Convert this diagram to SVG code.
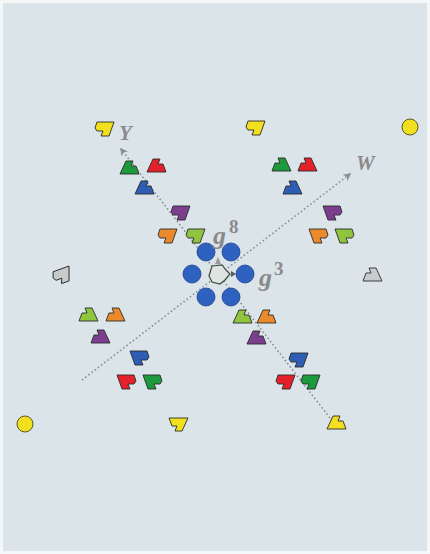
<svg xmlns="http://www.w3.org/2000/svg" width="430" height="554" viewBox="0 0 430 554">
<defs>
<style>
.pc{stroke:#2a2a2a;stroke-width:0.9;stroke-linejoin:round}
.y{fill:#f2e01e}.g{fill:#1c9a3c}.r{fill:#e4212b}.b{fill:#2e5db5}.p{fill:#7b3f8e}.o{fill:#ea8a2c}.l{fill:#8fc43e}.gr{fill:#c8cbcb}
.dot{fill:#2f62c0;stroke:#1d3f8a;stroke-width:0.8}
.ax{stroke:#8a9094;stroke-width:1.6;stroke-dasharray:1.6,2.4;fill:none}
.lbl{font-family:"Liberation Serif",serif;font-style:italic;fill:#8a8a8a;font-weight:bold}
.sup{font-family:"Liberation Serif",serif;font-style:normal;fill:#8a8a8a;font-weight:bold;font-size:19px}
</style>
<path id="pA" d="M-10,6 L-4,-7 L3,-7 L1,-2 L6,-2 L9,6 Z"/>
<path id="pB" d="M-7,-7 L10,-7 L5,7 L-3,7 L-1,2 L-7,2 L-9,-1 Z"/>
<marker id="ah" viewBox="0 0 10 10" refX="8" refY="5" markerWidth="5" markerHeight="5" orient="auto"><path d="M0,0 L10,5 L0,10 L3,5 Z" fill="#8a9094"/></marker>
</defs>
<rect x="0" y="0" width="430" height="554" fill="#f4f7f8"/>
<rect x="3" y="3" width="424" height="548" fill="#dbe4e9"/>
<g id="connectors">
<line class="ax" x1="330" y1="418" x2="121" y2="149" marker-end="url(#ah)"/>
<line class="ax" x1="82" y1="380" x2="350" y2="174" marker-end="url(#ah)"/>
</g>
<g id="yellow">
<use href="#pB" class="pc y" x="104" y="129"/>
<use href="#pB" class="pc y" x="255" y="128"/>
<use href="#pA" class="pc y" transform="translate(178,424) rotate(180)"/>
<use href="#pA" class="pc y" x="337" y="423"/>
<circle cx="410" cy="127" r="8" fill="#f2e01e" stroke="#4a4a2a" stroke-width="0.9"/>
<circle cx="25" cy="424" r="8" fill="#f2e01e" stroke="#4a4a2a" stroke-width="0.9"/>
</g>
<g id="cluster-tl">
<use href="#pA" class="pc g" x="130" y="168"/>
<use href="#pA" class="pc r" x="157" y="166"/>
<use href="#pA" class="pc b" x="145" y="188"/>
</g>
<g id="cluster-tr">
<use href="#pA" class="pc g" transform="translate(281,165) scale(-1,1)"/>
<use href="#pA" class="pc r" transform="translate(307,165) scale(-1,1)"/>
<use href="#pA" class="pc b" transform="translate(292,188) scale(-1,1)"/>
</g>
<g id="cluster-ml">
<use href="#pB" class="pc p" x="180" y="213"/>
<use href="#pB" class="pc o" x="167" y="236"/>
<use href="#pB" class="pc l" x="195" y="236"/>
</g>
<g id="cluster-mr">
<use href="#pB" class="pc p" transform="translate(333,213) scale(-1,1)"/>
<use href="#pB" class="pc o" transform="translate(319,236) scale(-1,1)"/>
<use href="#pB" class="pc l" transform="translate(345,236) scale(-1,1)"/>
</g>
<g id="gray">
<use href="#pB" class="pc gr" transform="translate(62,276) rotate(-20)"/>
<use href="#pA" class="pc gr" transform="translate(372,275) scale(-1,1)"/>
</g>
<g id="cluster-ll">
<use href="#pA" class="pc l" transform="translate(88,315) scale(-1,1)"/>
<use href="#pA" class="pc o" transform="translate(115,315) scale(-1,1)"/>
<use href="#pA" class="pc p" transform="translate(100,337) scale(-1,1)"/>
</g>
<g id="cluster-lr">
<use href="#pA" class="pc l" x="243" y="317"/>
<use href="#pA" class="pc o" x="267" y="317"/>
<use href="#pA" class="pc p" x="257" y="338"/>
</g>
<g id="cluster-bl">
<use href="#pB" class="pc b" transform="translate(140,358) scale(-1,1)"/>
<use href="#pB" class="pc r" transform="translate(127,382) scale(-1,1)"/>
<use href="#pB" class="pc g" transform="translate(153,382) scale(-1,1)"/>
</g>
<g id="cluster-br">
<use href="#pB" class="pc b" x="298" y="360"/>
<use href="#pB" class="pc r" x="285" y="382"/>
<use href="#pB" class="pc g" x="310" y="382"/>
</g>
<g id="center">
<circle class="dot" cx="206" cy="252" r="9"/>
<circle class="dot" cx="231" cy="252" r="9"/>
<circle class="dot" cx="192" cy="274" r="9"/>
<circle class="dot" cx="245" cy="274" r="9"/>
<circle class="dot" cx="206" cy="297" r="9"/>
<circle class="dot" cx="231" cy="297" r="9"/>
<path d="M212,266 L222,265 L226,270 L230,274 L225,280 L220,284 L212,282 L209,276 Z" fill="#dfe3e3" stroke="#3a4a3a" stroke-width="1.2"/>
<path d="M215,264 L218,257 L221,264 Z" fill="#9a9a9a"/>
<path d="M231,271 L236,274 L231,277 Z" fill="#5a5a5a"/>
</g>
<g id="labels">
<text class="lbl" x="119" y="140" font-size="21">Y</text>
<text class="lbl" x="356" y="170" font-size="21">W</text>
<text class="lbl" x="213" y="244" font-size="26">g</text>
<text class="sup" x="229" y="233">8</text>
<text class="lbl" x="259" y="286" font-size="26">g</text>
<text class="sup" x="274" y="275">3</text>
</g>
</svg>
